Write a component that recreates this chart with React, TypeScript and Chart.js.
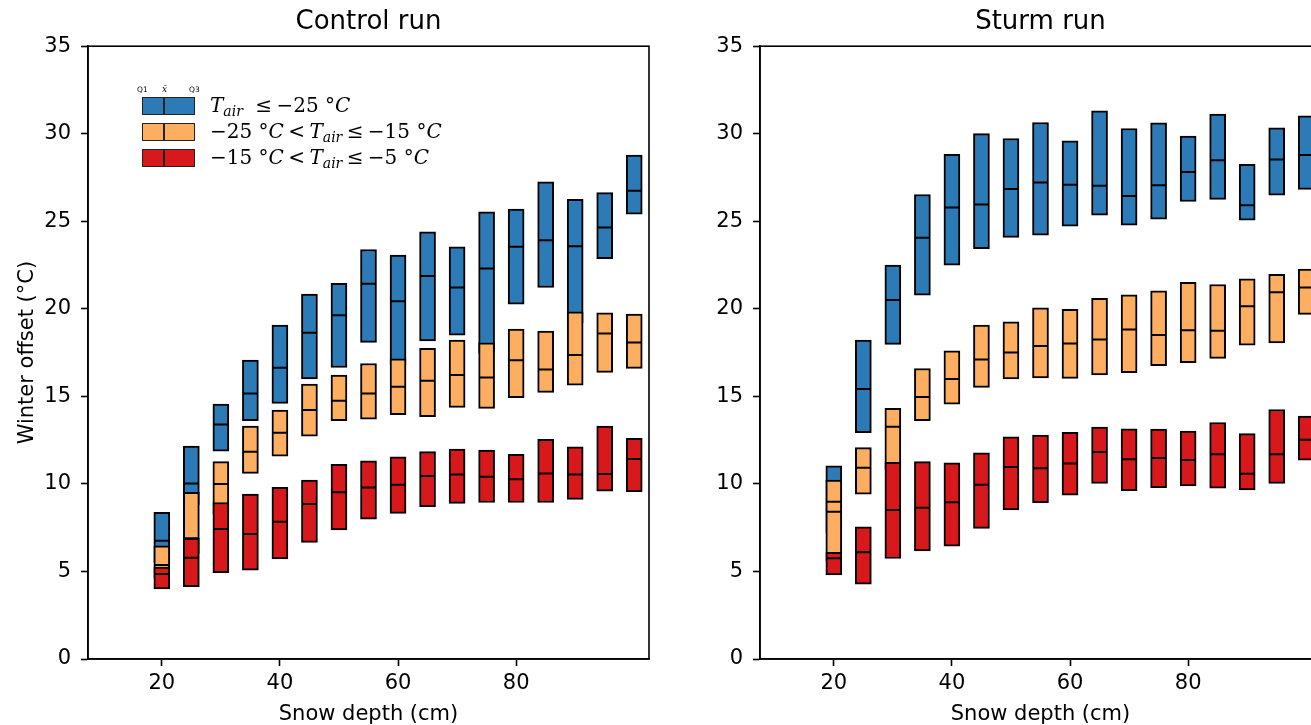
import React, { useEffect, useRef } from "react";
import { Chart, registerables } from "chart.js";

Chart.register(...registerables);

// ---------- data ----------
const depths = [20, 25, 30, 35, 40, 45, 50, 55, 60, 65, 70, 75, 80, 85, 90, 95, 100];
const xTickValues = [20, 40, 60, 80];

// Control run
const ctrlBlueQ1 = [5.5, 8.8, 11.87, 13.61, 14.6, 15.99, 16.65, 18.08, 16.8, 18.16, 18.5, 17.5, 20.27, 21.22, 19.2, 22.87, 25.41];
const ctrlBlueMed = [6.76, 10.03, 13.4, 15.17, 16.63, 18.63, 19.64, 21.43, 20.43, 21.87, 21.22, 22.31, 23.54, 23.92, 23.58, 24.64, 26.74];
const ctrlBlueQ3 = [8.37, 12.16, 14.56, 17.07, 19.07, 20.84, 21.45, 23.39, 23.07, 24.4, 23.54, 25.54, 25.69, 27.26, 26.25, 26.64, 28.78];

const ctrlOrangeQ1 = [4.6, 6.0, 8.3, 10.6, 11.59, 12.73, 13.61, 13.7, 13.96, 13.84, 14.37, 14.31, 14.92, 15.23, 15.64, 16.37, 16.6];
const ctrlOrangeMed = [5.37, 6.9, 9.99, 11.84, 12.92, 14.22, 14.75, 15.17, 15.55, 15.89, 16.22, 16.08, 17.07, 16.54, 17.36, 18.59, 18.08];
const ctrlOrangeQ3 = [6.47, 9.52, 11.27, 13.3, 14.22, 15.7, 16.22, 16.88, 17.15, 17.74, 18.21, 18.06, 18.84, 18.73, 19.83, 19.77, 19.7];

const ctrlRedQ1 = [4.0, 4.13, 4.93, 5.08, 5.71, 6.66, 7.37, 7.99, 8.32, 8.7, 8.89, 8.94, 8.94, 8.94, 9.12, 9.59, 9.55];
const ctrlRedMed = [4.85, 5.78, 7.42, 7.14, 7.84, 8.85, 9.52, 9.8, 9.95, 10.45, 10.54, 10.41, 10.26, 10.6, 10.54, 10.56, 11.42];
const ctrlRedQ3 = [5.25, 6.89, 8.94, 9.42, 9.8, 10.22, 11.12, 11.32, 11.55, 11.84, 11.99, 11.93, 11.69, 12.54, 12.12, 13.3, 12.6];

// Sturm run
const sturmBlueQ1 = [7.2, 12.92, 17.97, 20.78, 22.5, 23.43, 24.08, 24.21, 24.72, 25.35, 24.78, 25.12, 26.13, 26.25, 25.07, 26.49, 26.82];
const sturmBlueMed = [8.98, 15.42, 20.5, 24.06, 25.79, 25.96, 26.84, 27.22, 27.08, 27.03, 26.44, 27.06, 27.81, 28.49, 25.92, 28.53, 28.78];
const sturmBlueQ3 = [11.03, 18.21, 22.5, 26.53, 28.83, 30.01, 29.73, 30.64, 29.6, 31.31, 30.3, 30.62, 29.86, 31.12, 28.26, 30.34, 31.02];

const sturmOrangeQ1 = [5.6, 9.42, 10.8, 13.61, 14.56, 15.51, 15.99, 16.06, 16.03, 16.22, 16.35, 16.75, 16.92, 17.17, 17.93, 18.06, 19.68];
const sturmOrangeMed = [8.41, 10.92, 13.27, 14.96, 15.99, 17.11, 17.51, 17.87, 18.02, 18.25, 18.82, 18.5, 18.78, 18.75, 20.15, 20.94, 21.22];
const sturmOrangeQ3 = [10.22, 12.07, 14.31, 16.59, 17.6, 19.07, 19.26, 20.06, 19.97, 20.6, 20.8, 21.03, 21.51, 21.39, 21.71, 21.97, 22.27];

const sturmRedQ1 = [4.8, 4.28, 5.74, 6.17, 6.45, 7.46, 8.51, 8.93, 9.36, 10.03, 9.61, 9.78, 9.88, 9.75, 9.65, 10.03, 11.36];
const sturmRedMed = [5.75, 6.09, 8.51, 8.64, 8.95, 9.95, 10.96, 10.89, 11.17, 11.82, 11.41, 11.48, 11.36, 11.7, 10.58, 11.69, 12.52];
const sturmRedQ3 = [6.09, 7.55, 11.23, 11.27, 11.21, 11.78, 12.69, 12.79, 12.94, 13.25, 13.15, 13.13, 13.02, 13.51, 12.87, 14.25, 13.87];

const seriesLabels = ["T_air ≤ −25 °C", "−25 °C < T_air ≤ −15 °C", "−15 °C < T_air ≤ −5 °C"];
const seriesColors = ["#2c7bb6", "#fdae61", "#d7191c"];

// ---------- chart helpers ----------
const FONT = "'DejaVu Sans', sans-serif";
const AX_LW = 1.6;

const framePlugin = {
  id: "frame",
  afterDatasetsDraw(chart: any) {
    const { ctx, chartArea: a } = chart;
    ctx.save();
    ctx.strokeStyle = "#000";
    ctx.lineWidth = AX_LW;
    ctx.strokeRect(a.left, a.top, a.right - a.left, a.bottom - a.top);
    ctx.restore();
  },
};

function boxDataset(label: string, color: string, q1: number[], q3: number[], order: number) {
  return {
    type: "bar" as const,
    label,
    data: depths.map((d, i) => ({ x: d, y: [q1[i], q3[i]] })),
    backgroundColor: color,
    borderColor: "#000",
    borderWidth: 2,
    borderSkipped: false,
    barThickness: 16,
    grouped: false,
    order,
  };
}

function medianDataset(label: string, med: number[]) {
  return {
    type: "line" as const,
    label,
    data: depths.map((d, i) => ({ x: d, y: med[i] })),
    showLine: false,
    pointStyle: "line",
    pointRadius: 7.5,
    pointBorderWidth: 2,
    pointBorderColor: "#000",
    pointBackgroundColor: "#000",
    order: 0,
  };
}

function makeConfig(title: string, showYTitle: boolean, groups: number[][][]) {
  const datasets: any[] = [];
  groups.forEach((g, k) => {
    datasets.push(boxDataset(seriesLabels[k], seriesColors[k], g[0], g[2], 3 - k));
  });
  groups.forEach((g, k) => {
    datasets.push(medianDataset(seriesLabels[k] + " median", g[1]));
  });
  return {
    type: "bar" as const,
    data: { datasets },
    plugins: [framePlugin],
    options: {
      responsive: false,
      animation: false as const,
      devicePixelRatio: 1,
      events: [],
      layout: { padding: { left: 0, right: 51, top: 0, bottom: 0 } },
      plugins: {
        legend: { display: false },
        tooltip: { enabled: false },
        title: {
          display: true,
          text: title,
          color: "#000",
          fullSize: false,
          font: { family: FONT, size: 26, weight: "normal" as const },
          padding: { top: 7, bottom: 8 },
        },
      },
      scales: {
        x: {
          type: "linear" as const,
          min: 7.5,
          max: 102.5,
          offset: false,
          afterBuildTicks: (s: any) => {
            s.ticks = xTickValues.map((v) => ({ value: v }));
          },
          afterFit: (s: any) => {
            s.height = 66;
          },
          ticks: {
            color: "#000",
            font: { family: FONT, size: 21 },
            padding: 5,
            maxRotation: 0,
            autoSkip: false,
          },
          grid: {
            display: true,
            drawOnChartArea: false,
            drawTicks: true,
            tickLength: 7,
            tickWidth: AX_LW,
            tickColor: "#000",
            offset: false,
          },
          border: { display: true, color: "#000", width: AX_LW },
          title: {
            display: true,
            text: "Snow depth (cm)",
            color: "#000",
            font: { family: FONT, size: 21 },
            padding: { top: 0, bottom: -2 },
          },
        },
        y: {
          type: "linear" as const,
          min: 0,
          max: 35,
          afterFit: (s: any) => {
            s.width = 88;
          },
          ticks: {
            stepSize: 5,
            color: "#000",
            font: { family: FONT, size: 21 },
            padding: 10,
          },
          grid: {
            display: true,
            drawOnChartArea: false,
            drawTicks: true,
            tickLength: 7,
            tickWidth: AX_LW,
            tickColor: "#000",
          },
          border: { display: true, color: "#000", width: AX_LW },
          title: {
            display: showYTitle,
            text: "Winter offset (°C)",
            color: "#000",
            font: { family: FONT, size: 21 },
            padding: { top: 15, bottom: 0 },
          },
        },
      },
    },
  };
}

// ---------- legend (inset) ----------
const legendFont = "'DejaVu Serif', 'Liberation Serif', serif";

function Sub({ children }: { children: React.ReactNode }) {
  return (
    <span style={{ fontSize: "0.7em", position: "relative", top: "0.3em", fontStyle: "italic" }}>{children}</span>
  );
}
const I = ({ children }: { children: React.ReactNode }) => <span style={{ fontStyle: "italic" }}>{children}</span>;
const Rel = ({ children }: { children: React.ReactNode }) => <span style={{ margin: "0 0.22em" }}>{children}</span>;

function LegendRow({ top, color, children }: { top: number; color: string; children: React.ReactNode }) {
  return (
    <>
      <div
        style={{
          position: "absolute",
          left: 142,
          top,
          width: 53,
          height: 18,
          boxSizing: "border-box",
          background: color,
          border: "1.5px solid #222",
        }}
      >
        <div style={{ position: "absolute", left: 20, top: 0, width: 1.5, height: "100%", background: "#222" }} />
      </div>
      <div
        style={{
          position: "absolute",
          left: 210,
          top: top - 3,
          fontFamily: legendFont,
          fontSize: 20,
          lineHeight: "22px",
          whiteSpace: "nowrap",
          color: "#000",
        }}
      >
        {children}
      </div>
    </>
  );
}

function Legend() {
  const tiny: React.CSSProperties = {
    position: "absolute",
    top: 85,
    fontFamily: "'DejaVu Sans', sans-serif",
    fontSize: 7.5,
    color: "#000",
    lineHeight: "9px",
  };
  return (
    <>
      <div style={{ ...tiny, left: 137 }}>Q1</div>
      <div style={{ ...tiny, left: 162, fontStyle: "italic", fontFamily: legendFont, fontSize: 9 }}>x̄</div>
      <div style={{ ...tiny, left: 189 }}>Q3</div>
      <LegendRow top={97} color={seriesColors[0]}>
        <I>T</I>
        <Sub>air</Sub>
        <span style={{ marginLeft: "0.4em" }} />
        <Rel>≤</Rel>−25 °<I>C</I>
      </LegendRow>
      <LegendRow top={123} color={seriesColors[1]}>
        −25 °<I>C</I>
        <Rel>&lt;</Rel>
        <I>T</I>
        <Sub>air</Sub>
        <Rel>≤</Rel>−15 °<I>C</I>
      </LegendRow>
      <LegendRow top={149} color={seriesColors[2]}>
        −15 °<I>C</I>
        <Rel>&lt;</Rel>
        <I>T</I>
        <Sub>air</Sub>
        <Rel>≤</Rel>−5 °<I>C</I>
      </LegendRow>
    </>
  );
}

export default function App() {
  const leftRef = useRef<HTMLCanvasElement>(null);
  const rightRef = useRef<HTMLCanvasElement>(null);

  useEffect(() => {
    const left = new Chart(
      leftRef.current as HTMLCanvasElement,
      makeConfig("Control run", true, [
        [ctrlBlueQ1, ctrlBlueMed, ctrlBlueQ3],
        [ctrlOrangeQ1, ctrlOrangeMed, ctrlOrangeQ3],
        [ctrlRedQ1, ctrlRedMed, ctrlRedQ3],
      ]) as any
    );
    const right = new Chart(
      rightRef.current as HTMLCanvasElement,
      makeConfig("Sturm run", false, [
        [sturmBlueQ1, sturmBlueMed, sturmBlueQ3],
        [sturmOrangeQ1, sturmOrangeMed, sturmOrangeQ3],
        [sturmRedQ1, sturmRedMed, sturmRedQ3],
      ]) as any
    );
    return () => {
      left.destroy();
      right.destroy();
    };
  }, []);

  return (
    <div
      style={{
        position: "fixed",
        left: 0,
        top: 0,
        width: 1311,
        height: 725,
        overflow: "hidden",
        background: "#fff",
      }}
    >
      <canvas ref={leftRef} width={700} height={725} style={{ position: "absolute", left: 0, top: 0, width: 700, height: 725 }} />
      <canvas ref={rightRef} width={700} height={725} style={{ position: "absolute", left: 672, top: 0, width: 700, height: 725 }} />
      <Legend />
    </div>
  );
}
